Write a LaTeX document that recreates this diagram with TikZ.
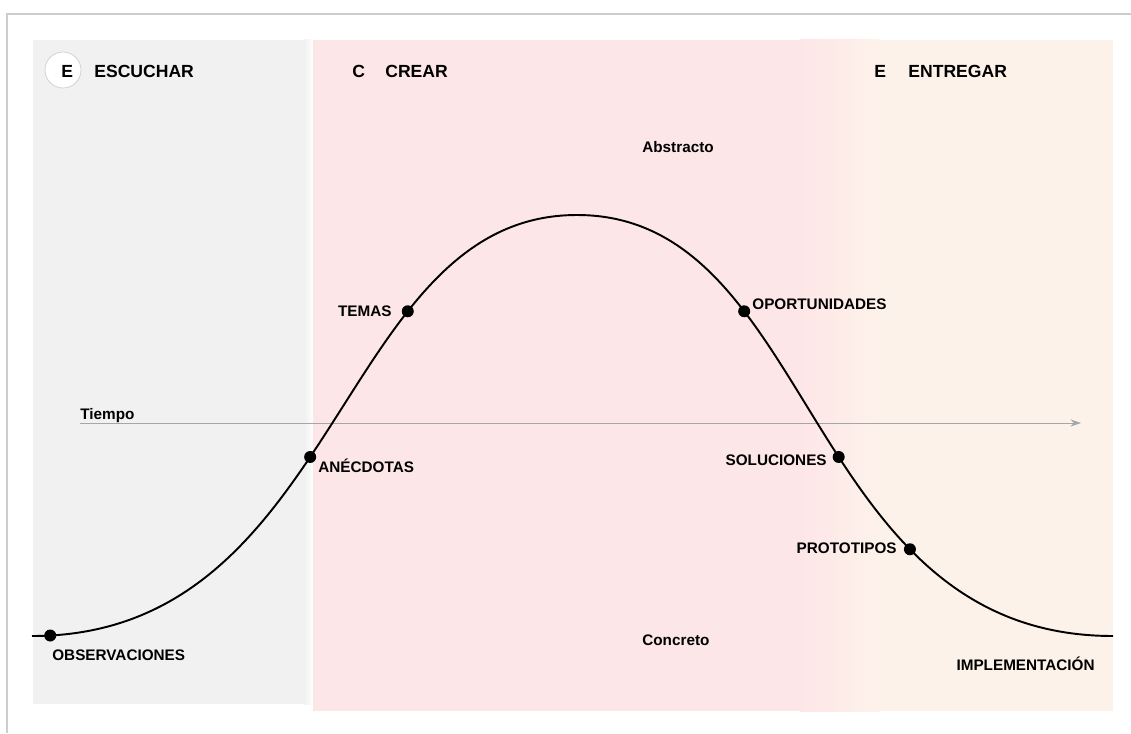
\documentclass[tikz,border=0pt]{standalone}
\usepackage{fontspec}
\setmainfont{Liberation Sans}
\usepackage{tikz}
\usetikzlibrary{arrows.meta}

\definecolor{panelgray}{RGB}{241,241,241}
\definecolor{panelpink}{RGB}{253,230,231}
\definecolor{panelpeach}{RGB}{253,242,234}
\definecolor{framegray}{RGB}{205,205,205}

\tikzset{
    head/.style={inner sep=0pt, font=\fontsize{10}{12}\selectfont\bfseries},
    lbl/.style={inner sep=0pt, font=\fontsize{8.7}{10}\selectfont\bfseries},
    dot/.style={circle, fill=black, inner sep=0pt, minimum size=0.24cm},
    curve/.style={black, line width=1.1pt}
}

\begin{document}
\begin{tikzpicture}[x=0.02cm, y=-0.02cm]
    \useasboundingbox (0, 0) rectangle (1131, 733);

    % Frame
    \draw[framegray, line width=0.6pt] (7, 733) -- (7, 14) -- (1131, 14);

    % Panels
    \fill[panelgray] (33, 40) rectangle (305, 704);
    \shade[left color=panelgray, right color=white] (304.5, 40) rectangle (313, 704);
    \fill[panelpink] (313, 40) rectangle (801, 711);
    \shade[left color=panelpink, right color=panelpeach] (800, 40) rectangle (880, 711);
    \fill[panelpeach] (879, 40) rectangle (1113, 711);

    % Headers
    \node[draw=framegray, fill=white, circle, minimum size=0.72cm, inner sep=0pt] (ecirc) at (63, 70) {};
    \node[head, anchor=base west] (e1) at (61, 78) {E};
    \node[head, anchor=base west] (escuchar) at (94, 78) {ESCUCHAR};
    \node[head, anchor=base west] (c1) at (352, 78) {C};
    \node[head, anchor=base west] (crear) at (385, 78) {CREAR};
    \node[head, anchor=base west] (e2) at (874, 78) {E};
    \node[head, anchor=base west] (entregar) at (908, 78) {ENTREGAR};

    \node[lbl, anchor=base west] (abstracto) at (642, 153) {Abstracto};
    \node[lbl, anchor=base west] (concreto) at (642, 645) {Concreto};

    % Tiempo
    \coordinate (t0) at (80, 423);
    \coordinate (t1) at (1081, 423);
    \draw[gray!70, line width=0.5pt, -{Stealth[length=6pt, width=4pt]}] (t0) -- (t1);
    \node[lbl, anchor=base west] (tiempo) at (80, 419) {Tiempo};

    % Curve
    \coordinate (start) at (32, 636);
    \coordinate (top) at (577, 215);
    \coordinate (end) at (1113, 636);
    \draw[curve] (start) .. controls (342, 636) and (337, 215) ..
        node[dot, pos=0.02] (d-obs) {}
        node[dot, pos=0.45] (d-anec) {}
        node[dot, pos=0.69] (d-temas) {} (top)
        .. controls (817, 215) and (803, 636) ..
        node[dot, pos=0.31] (d-oport) {}
        node[dot, pos=0.55] (d-soluc) {}
        node[dot, pos=0.708] (d-proto) {} (end);

    % Labels
    \node[lbl, anchor=base west] (l-obs) at (52, 660) {OBSERVACIONES};
    \node[lbl, anchor=base west] (l-anec) at (318, 472) {ANÉCDOTAS};
    \node[lbl, anchor=base east] (l-temas) at (392, 316) {TEMAS};
    \node[lbl, anchor=base west] (l-oport) at (752, 309) {OPORTUNIDADES};
    \node[lbl, anchor=base east] (l-soluc) at (827, 465) {SOLUCIONES};
    \node[lbl, anchor=base east] (l-proto) at (897, 553) {PROTOTIPOS};
    \node[lbl, anchor=base east] (l-impl) at (1095, 670) {IMPLEMENTACIÓN};
\end{tikzpicture}
\end{document}
